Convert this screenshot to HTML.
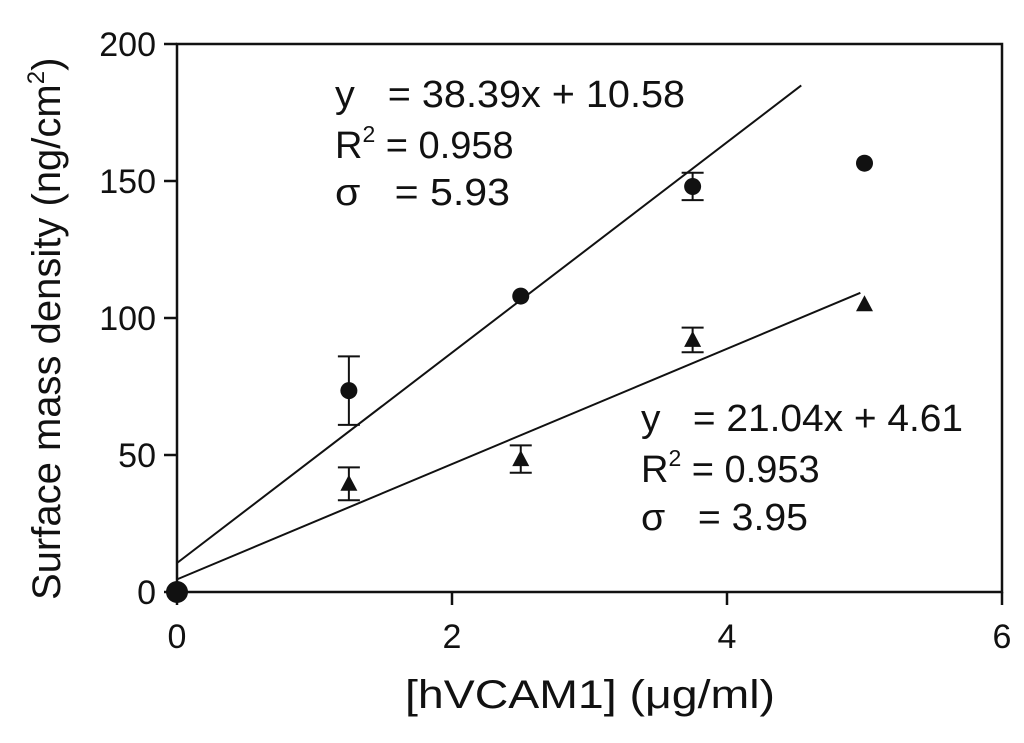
<!DOCTYPE html>
<html><head><meta charset="utf-8"><style>
body{margin:0;background:#fff;}
svg text{font-family:"Liberation Sans",sans-serif;fill:#111;white-space:pre;}
</style></head><body>
<svg id="chart" width="1024" height="738" viewBox="0 0 1024 738" xmlns="http://www.w3.org/2000/svg">
<g id="axes"></g><g id="marks"></g>
<text x="335" y="107" font-size="38" textLength="350" lengthAdjust="spacingAndGlyphs">y   = 38.39x + 10.58</text>
<text x="335" y="158" font-size="38">R<tspan font-size="23" dy="-16">2</tspan><tspan dy="16"> = 0.958</tspan></text>
<text x="335" y="205" font-size="38" textLength="175" lengthAdjust="spacingAndGlyphs">σ   = 5.93</text>
<text x="641" y="431" font-size="38" textLength="322" lengthAdjust="spacingAndGlyphs">y   = 21.04x + 4.61</text>
<text x="641" y="482" font-size="38">R<tspan font-size="23" dy="-16">2</tspan><tspan dy="16"> = 0.953</tspan></text>
<text x="641" y="530" font-size="38" textLength="167" lengthAdjust="spacingAndGlyphs">σ   = 3.95</text>
<text x="405" y="708" font-size="40" textLength="370" lengthAdjust="spacingAndGlyphs">[hVCAM1] (μg/ml)</text>
<text transform="translate(60,600) rotate(-90)" font-size="40">Surface mass density (ng/cm<tspan font-size="24" dy="-16">2</tspan><tspan dy="16">)</tspan></text>
</svg>
<script>
const xs=[0,1.25,2.5,3.75,5];
const circleVals=[0,73.5,108,148,156.5];
const circleErr=[0,12.5,0,5,0];
const triVals=[0,39.5,48.5,92,105];
const triErr=[0,6,5,4.5,0];
const xTicks=[0,2,4,6];
const yTicks=[0,50,100,150,200];
const fitUpper=[38.39,10.58,4.54];
const fitLower=[21.04,4.61,4.97];
const NS='http://www.w3.org/2000/svg';
const X=v=>177+v*137.5, Y=v=>592-v*2.74;
function mk(p,t,a){const e=document.createElementNS(NS,t);for(const k in a)e.setAttribute(k,a[k]);p.appendChild(e);return e;}
const ax=document.getElementById('axes'),mk2=document.getElementById('marks');
const frame=mk(ax,'path',{d:`M${X(0)},${Y(0)}H${X(6)}V${Y(200)}H${X(0)}Z`,fill:'none',stroke:'#111','stroke-width':2.5});


xTicks.forEach(t=>{
 const l=mk(ax,'line',{x1:X(t),x2:X(t),y1:Y(0),y2:Y(0)+13,stroke:'#111','stroke-width':2.5});
 
 
 const tx=mk(ax,'text',{x:X(t),y:Y(0)+56,'font-size':34,'text-anchor':'middle'});tx.textContent=t;
 
 
});
yTicks.forEach(t=>{
 const l=mk(ax,'line',{x1:X(0)-13,x2:X(0),y1:Y(t),y2:Y(t),stroke:'#111','stroke-width':2.5});
 
 
 const tx=mk(ax,'text',{x:X(0)-21,y:Y(t)+12,'font-size':34,'text-anchor':'end'});tx.textContent=t;
 
 
});
[fitUpper,fitLower].forEach((f,i)=>{
 const l=mk(mk2,'line',{x1:X(0),y1:Y(f[1]),x2:X(f[2]),y2:Y(f[0]*f[2]+f[1]),stroke:'#111','stroke-width':2});
 
 
});
function err(x,v,e){if(!e)return;
 const g=mk(mk2,'path',{d:`M${X(x)},${Y(v+e)}V${Y(v-e)}M${X(x)-11},${Y(v+e)}h22M${X(x)-11},${Y(v-e)}h22`,stroke:'#111','stroke-width':2,fill:'none'});
 
 
}
xs.forEach((x,i)=>{
 err(x,circleVals[i],circleErr[i]);
 const c=mk(mk2,'circle',{cx:X(x),cy:Y(circleVals[i]),r:i==0?11:8.5,fill:'#111'});
 
 
 if(i>0){
 err(x,triVals[i],triErr[i]);
 const cx=X(x),cy=Y(triVals[i]);
 const p=mk(mk2,'path',{d:`M${cx},${cy-9}L${cx+8.5},${cy+7}L${cx-8.5},${cy+7}Z`,fill:'#111'});
 
 
 }
});
</script>
</body></html>
